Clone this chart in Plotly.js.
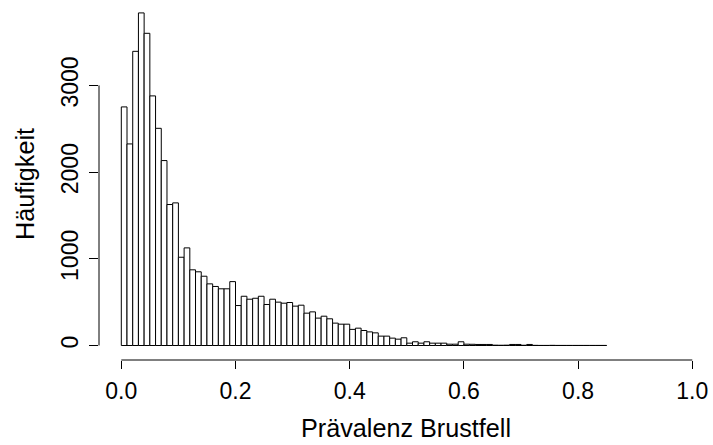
<!DOCTYPE html>
<html>
<head>
<meta charset="utf-8">
<script src="https://cdn.plot.ly/plotly-3.0.1.min.js"></script>
<style>
  html, body { margin: 0; padding: 0; background: #ffffff; }
  #chart { width: 713px; height: 445px; }
</style>
</head>
<body>
<div id="chart"></div>
<script>
// Histogram of "Prävalenz Brustfell": bin width 0.01, bins from 0.00 to 0.85
const binWidth = 0.01;
const binStartFirst = 0.0;
const counts = [
  2752, 2325, 3393, 3836, 3601, 2879, 2505, 2133, 1626, 1645,
  1018, 1126,  873,  850,  799,  711,  681,  654,  654,  737,
   461,  568,  534,  545,  568,  473,  534,  500,  488,  496,
   454,  465,  373,  388,  316,  338,  308,  258,  246,  246,
   186,  200,  173,  157,  146,  108,  108,   85,   73,   89,
    27,   43,   27,   43,   27,   27,   27,   15,   15,   43,
    15,   14,   12,   12,   12,    4,    3,    4,   12,   12,
     3,   12,    2,    1,    1,    2,    1,    1,    1,    1,
     1,    1,    1,    1,    1
];
const xTickVals = [0, 0.2, 0.4, 0.6, 0.8, 1.0];
const xTickText = ["0.0", "0.2", "0.4", "0.6", "0.8", "1.0"];
const yTickVals = [0, 1000, 2000, 3000];
const yTickText = ["0", "1000", "2000", "3000"];
const xTitle = "Prävalenz Brustfell";
const yTitle = "Häufigkeit";

// bin centres (category positions)
const binCenters = counts.map((_, i) => binStartFirst + (i + 0.5) * binWidth);

const xRange = [-0.03905, 1.03626];
const yRange = [-167.2, 3892.8];
const toPaperX = v => (v - xRange[0]) / (xRange[1] - xRange[0]);
const toPaperY = v => (v - yRange[0]) / (yRange[1] - yRange[0]);

const FONT = "Liberation Sans, Arial, sans-serif";

const trace = {
  type: "bar",
  x: binCenters,
  y: counts,
  width: binWidth,
  marker: { color: "#ffffff", line: { color: "#000000", width: 1 } },
  hoverinfo: "x+y"
};

const layout = {
  width: 713,
  height: 445,
  margin: { l: 99, r: 0, t: 8, b: 85, pad: 0 },
  paper_bgcolor: "#ffffff",
  plot_bgcolor: "#ffffff",
  showlegend: false,
  bargap: 0,
  font: { family: FONT, color: "#000000", size: 23 },
  xaxis: {
    range: xRange,
    autorange: false,
    showgrid: false,
    zeroline: false,
    showline: false,
    ticks: "outside",
    ticklen: 8,
    tickwidth: 1,
    tickcolor: "#000000",
    tickmode: "array",
    tickvals: xTickVals,
    ticktext: xTickText,
    tickfont: { family: FONT, size: 23, color: "#000000" },
    ticklabelstandoff: 2,
    title: { text: xTitle, font: { family: FONT, size: 25.2, color: "#000000" }, standoff: 16 },
    fixedrange: true
  },
  yaxis: {
    range: yRange,
    autorange: false,
    showgrid: false,
    zeroline: false,
    showline: false,
    ticks: "outside",
    ticklen: 9,
    tickwidth: 1,
    tickcolor: "#000000",
    tickmode: "array",
    tickvals: yTickVals,
    ticktext: yTickText,
    tickangle: -90,
    tickfont: { family: FONT, size: 23, color: "#000000" },
    ticklabelstandoff: 2,
    title: { text: yTitle, font: { family: FONT, size: 25.2, color: "#000000" }, standoff: 14 },
    fixedrange: true
  },
  shapes: [
    // y axis line (R style: spans from first to last tick)
    {
      type: "line", xref: "paper", yref: "paper",
      x0: 0, x1: 0,
      y0: toPaperY(yTickVals[0]), y1: toPaperY(yTickVals[yTickVals.length - 1]),
      line: { color: "#000000", width: 1 }
    },
    // x axis line
    {
      type: "line", xref: "paper", yref: "paper",
      x0: toPaperX(xTickVals[0]), x1: toPaperX(xTickVals[xTickVals.length - 1]),
      y0: 0, y1: 0,
      line: { color: "#000000", width: 1 }
    }
  ]
};

Plotly.newPlot("chart", [trace], layout, { displayModeBar: false, staticPlot: true });
</script>
</body>
</html>
